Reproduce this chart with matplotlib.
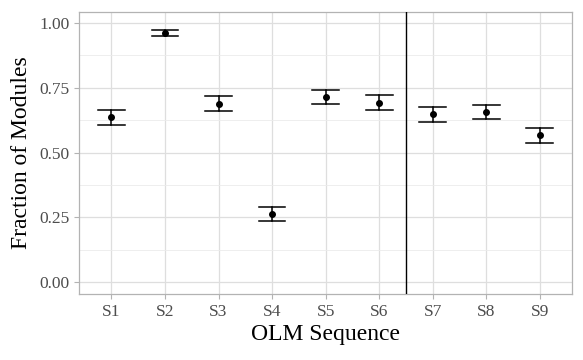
import matplotlib.pyplot as plt
import numpy as np

# data
seqs  = ['S1', 'S2', 'S3', 'S4', 'S5', 'S6', 'S7', 'S8', 'S9']
frac  = [0.636, 0.960, 0.689, 0.263, 0.715, 0.692, 0.648, 0.656, 0.566]
upper = [0.666, 0.973, 0.718, 0.290, 0.743, 0.721, 0.677, 0.685, 0.596]
lower = [0.606, 0.950, 0.661, 0.237, 0.687, 0.664, 0.619, 0.628, 0.536]
split_after = 6  # vertical line between S6 and S7

plt.rcParams['font.family'] = ['Liberation Serif', 'DejaVu Serif']

fig = plt.figure(figsize=(5.83, 3.6), dpi=100)
ax = fig.add_axes([0.136, 0.183, 0.845, 0.785])

x = np.arange(1, len(seqs) + 1)
frac = np.array(frac); upper = np.array(upper); lower = np.array(lower)

# ggplot-ish error bars
for xi, lo, hi in zip(x, lower, upper):
    ax.plot([xi, xi], [lo, hi], color='black', lw=1.1, zorder=3)
    ax.plot([xi - 0.25, xi + 0.25], [hi, hi], color='black', lw=1.1, zorder=3)
    ax.plot([xi - 0.25, xi + 0.25], [lo, lo], color='black', lw=1.1, zorder=3)
ax.scatter(x, frac, s=16, color='black', zorder=4)

ax.axvline(split_after + 0.5, color='black', lw=1.0, zorder=3)

ax.set_xlim(0.4, len(seqs) + 0.6)
ax.set_ylim(-0.046, 1.044)
ax.set_xticks(x)
ax.set_xticklabels(seqs)
ax.set_yticks([0, 0.25, 0.5, 0.75, 1.0])
ax.set_yticklabels(['0.00', '0.25', '0.50', '0.75', '1.00'])
ax.set_yticks([0.125, 0.375, 0.625, 0.875], minor=True)

ax.grid(which='major', color='#DEDEDE', lw=0.9, zorder=0)
ax.grid(which='minor', axis='y', color='#EBEBEB', lw=0.6, zorder=0)
ax.set_axisbelow(True)
ax.tick_params(which='major', colors='#B3B3B3', labelcolor='#4D4D4D',
               labelsize=12.5, length=3.5, width=0.8)
ax.tick_params(which='minor', length=0)
for s in ax.spines.values():
    s.set_color('#B3B3B3')
    s.set_linewidth(0.9)

ax.set_xlabel('OLM Sequence', fontsize=17, labelpad=3)
ax.set_ylabel('Fraction of Modules', fontsize=17, labelpad=5)

fig.savefig('out.png', dpi=100)
